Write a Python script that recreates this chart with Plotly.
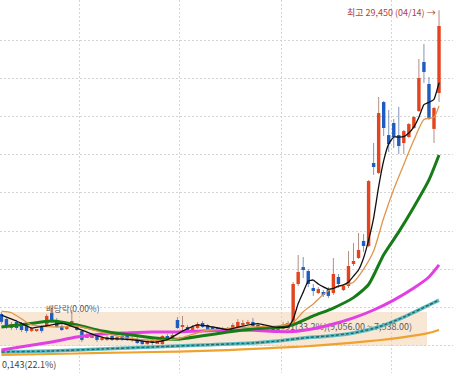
import plotly.graph_objects as go

# ---------------- data ----------------
idx = list(range(88))

open_ = [9570, 9240, 8650, 9050, 8910, 8780, 8460, 8460, 8780, 8780,
         9630, 9180, 8780, 8590, 8780, 8850, 8460, 8060, 8060, 8190,
         7870, 7870, 8130, 7870, 8130, 8130, 7870, 7930, 7800, 7600,
         7870, 7670, 7600, 8130, 8000, 9180, 8720, 8720, 8520, 8650,
         8980, 8850, 8720, 8650, 8460, 8650, 8520, 8650, 8850, 8910,
         9050, 8850, 8650, 8780, 8720, 8520, 8590, 8650, 8980, 11530,
         12640, 12380, 11270, 10940, 11010, 11200, 10940, 11990, 11140, 11400,
         12840, 13230, 14350, 14020, 19450, 18800, 23440, 21280, 22070, 21280,
         20760, 21150, 21740, 22850, 26060, 24620, 21680, 24030]
high = [9700, 9370, 9050, 9180, 9050, 8910, 8720, 8590, 8850, 9570,
        9960, 9310, 8910, 8780, 9830, 8980, 8520, 8330, 8330, 8260,
        8130, 8190, 8190, 8130, 8190, 8260, 8060, 8060, 7930, 7870,
        7930, 7930, 8190, 8260, 8330, 9370, 9440, 8850, 8850, 9050,
        9110, 8910, 8780, 8720, 8720, 8720, 8980, 9240, 9180, 9180,
        9310, 8980, 8910, 8850, 8780, 8780, 9050, 9110, 11660, 13430,
        13300, 12510, 11530, 11330, 11140, 11330, 13230, 12190, 11530, 13690,
        14210, 14870, 14800, 18340, 20760, 23770, 23510, 22920, 22330, 23120,
        21610, 22070, 22530, 26260, 27240, 25080, 23120, 29450]
low = [8910, 8590, 8520, 8520, 8390, 8330, 8390, 8390, 8330, 8720,
       8980, 8650, 8460, 8520, 8720, 8460, 7740, 8000, 8000, 7740,
       7800, 7800, 7800, 7800, 7800, 7800, 7740, 7600, 7540, 7540,
       7540, 7600, 7540, 7800, 7930, 8590, 8520, 8460, 8460, 8590,
       8650, 8520, 8390, 8330, 8390, 8390, 8460, 8590, 8780, 8850,
       8720, 8590, 8590, 8520, 8460, 8460, 8520, 8590, 8780, 11400,
       11920, 11330, 10750, 10880, 10680, 10610, 10810, 11270, 11070, 11270,
       12710, 13170, 13630, 13950, 18670, 18730, 21220, 20170, 20430, 20040,
       20040, 21090, 21680, 22790, 24690, 22260, 20760, 23440]
close = [9050, 8720, 8910, 8650, 8520, 8460, 8650, 8520, 8460, 9440,
         9110, 8720, 8520, 8720, 9110, 8520, 7870, 8190, 8190, 7870,
         8000, 8060, 7870, 8060, 7930, 7870, 8000, 7670, 7600, 7800,
         7670, 7800, 8130, 7870, 8190, 8650, 8850, 8520, 8720, 8910,
         8720, 8590, 8460, 8390, 8590, 8460, 8850, 9050, 8980, 9050,
         8780, 8650, 8780, 8590, 8520, 8650, 8780, 8850, 11530, 12320,
         12450, 11530, 11070, 11200, 10810, 10750, 12190, 11530, 11400, 12710,
         13040, 13760, 14020, 18270, 19190, 22720, 21740, 20690, 21150, 20560,
         21540, 22000, 22460, 25010, 25410, 22330, 23050, 28420]

# moving averages, read at sample points
ma5_x = [0, 3, 6, 9, 12, 15, 18, 21, 24, 27, 30, 33, 36, 39, 42, 45, 48, 51, 54, 57,
         58, 59, 60, 61, 62, 63, 64, 65, 66, 67, 68, 69, 70, 71, 72, 73, 74, 75, 76, 77,
         78, 79, 80, 81, 82, 83, 84, 85, 86, 87]
ma5 = [9500, 9110, 8650, 8800, 8950, 8650, 8250, 7970, 7930, 7850, 7710, 7890, 8450, 8850,
       8720, 8540, 8780, 8940, 8720, 8730, 9220, 10250, 11000, 11730, 11790, 11530, 11340,
       11200, 11250, 11400, 11470, 11660, 12050, 12450, 13230, 14400, 15850, 17900, 19600,
       20700, 21150, 21150, 21180, 21410, 21810, 22450, 23270, 23420, 23620, 24700]

ma10_x = [0, 2, 4, 6, 9, 12, 15, 18, 20, 25, 30, 35, 40, 45, 50, 55, 58, 60, 62, 64,
          66, 68, 70, 72, 74, 76, 78, 80, 82, 84, 86, 87]
ma10 = [9750, 9650, 9250, 8850, 8740, 8720, 8780, 8550, 8370, 8010, 7850, 7940, 8440, 8620,
        8720, 8790, 9020, 9710, 10230, 10850, 11270, 11450, 11650, 12500, 13690, 15850, 17730,
        19360, 20950, 22300, 22450, 23190]

ma20_x = [0, 5, 10, 15, 20, 25, 30, 35, 40, 45, 50, 55, 58, 62, 66, 70, 73, 76, 79, 82, 85, 87]
ma20 = [8720, 8910, 9110, 8850, 8460, 8220, 8020, 7920, 8140, 8390, 8590, 8680, 8860, 9440,
        9960, 10640, 11500, 13450, 14940, 16570, 18340, 19970]

ma60_x = [0, 5, 10, 15, 20, 25, 30, 35, 40, 45, 50, 55, 58, 62, 66, 70, 74, 78, 82, 85, 87]
ma60 = [7210, 7470, 7740, 8060, 8260, 8330, 8390, 8390, 8460, 8500, 8500, 8420, 8420, 8600,
        8910, 9310, 9830, 10480, 11270, 11990, 12780]

ma120_x = [0, 10, 20, 30, 40, 50, 55, 60, 65, 70, 75, 80, 85, 87]
ma120 = [7080, 7150, 7280, 7410, 7540, 7670, 7800, 8000, 8130, 8330, 8720, 9370, 10160, 10480]

ma240_x = [0, 10, 20, 30, 40, 50, 55, 60, 65, 70, 75, 80, 85, 87]
ma240 = [6890, 6950, 7020, 7080, 7150, 7280, 7370, 7440, 7560, 7700, 7850, 8050, 8330, 8520]

high_label = "최고 29,450 (04/14) →"
div_label = "배당락(0.00%)"
box_label = "51(33.2%)(9,056.00 ~ 7,538.00)"
low_label = "0,143(22.1%)"
box_top, box_bottom = 9700, 7470
grid_prices = [7500, 10000, 12500, 15000, 17500, 20000, 22500, 25000, 27500]
month_marks = [15.45, 35.5, 55.6, 77.6]

# ---------------- figure ----------------
UP, DOWN = "#e3431d", "#1f5cc0"
UP_WICK, DOWN_WICK = "#b58c86", "#8194b8"
FONT = "Noto Sans CJK KR"

fig = go.Figure()

# box label drawn under the lines
fig.add_trace(go.Scatter(x=[56.4], y=[8650], mode="text", text=[box_label],
                         textposition="middle right",
                         textfont=dict(family=FONT, size=9, color="#5a5a5a"),
                         hoverinfo="skip"))

# candle bodies
base = [min(o, c) for o, c in zip(open_, close)]
body = [max(abs(c - o), 65) for o, c in zip(open_, close)]
colors = [UP if c >= o else DOWN for o, c in zip(open_, close)]
fig.add_trace(go.Bar(x=idx, y=body, base=base, width=0.68,
                     marker=dict(color=colors, line=dict(width=0)),
                     hoverinfo="skip"))

# wicks (outside the bodies)
for up_side, wcol in ((True, UP_WICK), (False, DOWN_WICK)):
    wx, wy = [], []
    for i in idx:
        if (close[i] >= open_[i]) != up_side:
            continue
        top, bot = max(open_[i], close[i]), min(open_[i], close[i])
        if high[i] > top:
            wx += [i, i, None]; wy += [top, high[i], None]
        if low[i] < bot:
            wx += [i, i, None]; wy += [low[i], bot, None]
    fig.add_trace(go.Scatter(x=wx, y=wy, mode="lines", line=dict(color=wcol, width=1),
                             hoverinfo="skip"))

def ma(x, y, color, width, dash="solid", smooth=0.6):
    fig.add_trace(go.Scatter(x=x, y=y, mode="lines",
                             line=dict(color=color, width=width, dash=dash,
                                       shape="spline", smoothing=smooth),
                             hoverinfo="skip"))

ma(ma240_x, ma240, "#f0a22e", 2.2)
ma(ma120_x, ma120, "#5dbcbf", 3.5)
ma(ma120_x, ma120, "#24686b", 1.5, dash="3px,2px")
ma(ma60_x, ma60, "#e23fe2", 3)
ma(ma20_x, ma20, "#177c17", 3)
ma(ma10_x, ma10, "#e0954c", 1.3)
ma(ma5_x, ma5, "#111111", 1.3, smooth=0.4)

fig.add_shape(type="rect", xref="paper", yref="y", x0=0, x1=427 / 453,
              y0=box_bottom, y1=box_top, fillcolor="#f8e7d5", line=dict(width=0),
              layer="below")

fig.add_annotation(text=high_label, xref="paper", yref="paper", x=438 / 453, y=1 - 12 / 373,
                   xanchor="right", yanchor="middle", showarrow=False,
                   font=dict(family=FONT, size=9, color="#b3403a"))
fig.add_annotation(text=div_label, xref="paper", yref="paper", x=44 / 453, y=1 - 308 / 373,
                   xanchor="left", yanchor="middle", showarrow=False,
                   font=dict(family=FONT, size=8.5, color="#555555"))
fig.add_annotation(text=low_label, xref="paper", yref="paper", x=0, y=1 - 364 / 373,
                   xanchor="left", yanchor="middle", showarrow=False,
                   font=dict(family=FONT, size=9, color="#444444"))

grid = dict(showgrid=True, gridcolor="#d4d4d4", griddash="2px,2px", gridwidth=1,
            zeroline=False, showline=False, showticklabels=False, ticks="")
fig.update_layout(
    width=453, height=373, margin=dict(l=0, r=0, t=0, b=0),
    paper_bgcolor="white", plot_bgcolor="white", showlegend=False,
    xaxis=dict(range=[-0.28, 89.78], tickvals=month_marks, fixedrange=True, **grid),
    yaxis=dict(range=[5707, 30118], tickvals=grid_prices, fixedrange=True, **grid),
)
fig.write_html("out.html", config={"displayModeBar": False},
               post_script="document.body.style.margin='0';")
